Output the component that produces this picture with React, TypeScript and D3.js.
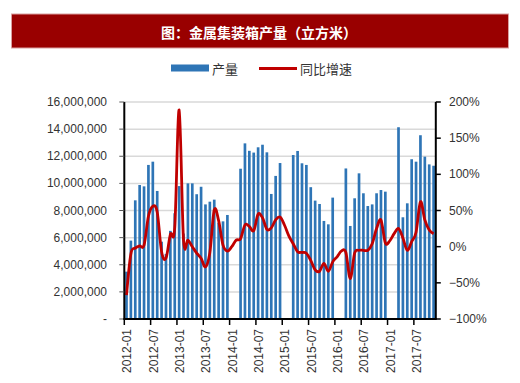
import React from 'react';
import * as d3 from 'd3';

const years = ['2012', '2013', '2014', '2015', '2016', '2017'];
const months = ['01', '02', '03', '04', '05', '06', '07', '08', '09', '10', '11', '12'];
// 2012-01 .. 2017-11
const categories: string[] = years.flatMap((y) => months.map((m) => `${y}-${m}`)).slice(0, 71);

// 产量 (立方米); null = no data shown
const production: (number | null)[] = [
  // 2012
  3490000, 5780000, 8750000, 9880000, 9780000, 11360000, 11600000, 9440000, 5700000, 4800000, 6500000, 7800000,
  // 2013
  9800000, 6300000, 10000000, 10000000, 9200000, 9750000, 8450000, 8650000, 8800000, 7100000, 7200000, 7670000,
  // 2014
  null, null, 11080000, 12950000, 12400000, 12270000, 12660000, 12850000, 12290000, 9220000, 10550000, 11500000,
  // 2015
  null, null, 12090000, 12390000, 11480000, 11360000, 9720000, 8730000, 8480000, 7230000, 6980000, 8950000,
  // 2016
  null, null, 11100000, 6860000, 8900000, 10740000, 9270000, 8330000, 8450000, 9270000, 9510000, 9390000,
  // 2017
  null, null, 14140000, 7500000, 8530000, 11780000, 11600000, 13550000, 11970000, 11400000, 11300000,
];

// 同比增速 (ratio)
const growth: number[] = [
  // 2012
  -0.67, -0.10, -0.02, 0.01, 0.02, 0.42, 0.56, 0.48, -0.07, -0.16, 0.17, 0.27,
  // 2013
  1.89, 0.09, 0.09, 0.0, -0.09, -0.16, -0.28, -0.08, 0.51, 0.36, 0.02, -0.06,
  // 2014
  0.0, 0.09, 0.11, 0.30, 0.28, 0.22, 0.45, 0.40, 0.24, 0.26, 0.37, 0.41,
  // 2015
  0.30, 0.15, 0.04, -0.07, -0.08, -0.09, -0.19, -0.32, -0.34, -0.23, -0.34, -0.21,
  // 2016
  -0.14, -0.06, -0.08, -0.44, -0.09, -0.05, -0.05, -0.05, 0.04, 0.25, 0.37, 0.05,
  // 2017
  0.08, 0.18, 0.25, 0.12, -0.05, 0.07, 0.20, 0.62, 0.37, 0.23, 0.18,
];

const leftTicks = [0, 2000000, 4000000, 6000000, 8000000, 10000000, 12000000, 14000000, 16000000];
const rightTicks = [-1, -0.5, 0, 0.5, 1, 1.5, 2];
const xTickLabels = ['2012-01', '2012-07', '2013-01', '2013-07', '2014-01', '2014-07', '2015-01', '2015-07', '2016-01', '2016-07', '2017-01', '2017-07'];

const title = '图：金属集装箱产量（立方米）';
const legendBar = '产量';
const legendLine = '同比增速';

const CJK = '"Noto Sans CJK SC", "Noto Sans", sans-serif';
const NUM = '"Liberation Sans", Arial, sans-serif';

export default function App() {
  const W = 520;
  const H = 383;
  const x0 = 124.3;
  const x1 = 435.8;
  const yTop = 102;
  const yBot = 319;

  const x = d3
    .scaleBand<string>()
    .domain(categories)
    .range([x0, x1])
    .paddingInner(0.39)
    .paddingOuter(0.195);
  const step = x.step();
  const bw = x.bandwidth();
  const cx = (c: string) => (x(c) as number) + bw / 2;
  const slotLeft = (c: string) => cx(c) - step / 2;

  const yL = d3.scaleLinear().domain([0, 16000000]).range([yBot, yTop]);
  const yR = d3.scaleLinear().domain([-1, 2]).range([yBot, yTop]);

  const line = d3
    .line<number>()
    .x((_, i) => cx(categories[i]))
    .y((d) => yR(d))
    .curve(d3.curveCardinal.tension(0));

  const fmt = d3.format(',');
  const blue = '#2E75B6';
  const red = '#C00000';

  return (
    <svg
      width={W}
      height={H}
      viewBox={`0 0 ${W} ${H}`}
      style={{ position: 'absolute', left: 0, top: 0, background: '#fff' }}
    >
      {/* title banner */}
      <rect x={11.5} y={14} width={497} height={34} fill="#990000" stroke="#d9a0a0" strokeWidth={1} />
      <text
        x={259}
        y={31.5}
        textAnchor="middle"
        dominantBaseline="central"
        fill="#fff"
        fontFamily={CJK}
        fontWeight="bold"
        fontSize={14}
      >
        {title}
      </text>

      {/* legend */}
      <rect x={171} y={64.5} width={38} height={7} fill={blue} />
      <text x={212} y={68.5} dominantBaseline="central" fontFamily={CJK} fontSize={13} fill="#333">
        {legendBar}
      </text>
      <line x1={259} x2={297} y1={68.5} y2={68.5} stroke={red} strokeWidth={3} />
      <text x={300} y={68.5} dominantBaseline="central" fontFamily={CJK} fontSize={13} fill="#333">
        {legendLine}
      </text>

      {/* gridlines */}
      {leftTicks.slice(1).map((t) => (
        <line key={'g' + t} x1={x0} x2={x1} y1={yL(t)} y2={yL(t)} stroke="#d9d9d9" strokeWidth={1.5} />
      ))}

      {/* bars */}
      {production.map((v, i) =>
        v == null ? null : (
          <rect
            key={'b' + i}
            x={x(categories[i])}
            y={yL(v)}
            width={bw}
            height={yBot - yL(v)}
            fill={blue}
          />
        )
      )}

      {/* line */}
      <path d={line(growth) || ''} fill="none" stroke={red} strokeWidth={2.8} strokeLinejoin="round" />

      {/* left axis */}
      <line x1={x0} x2={x0} y1={yTop} y2={yBot} stroke="#000" strokeWidth={2} />
      {leftTicks.map((t) => (
        <g key={'l' + t}>
          <line x1={x0 - 5} x2={x0} y1={yL(t)} y2={yL(t)} stroke="#555" strokeWidth={1} />
          <text
            x={107}
            y={yL(t)}
            textAnchor="end"
            dominantBaseline="central"
            fontFamily={NUM}
            fontSize={12}
            fill="#333"
          >
            {t === 0 ? '-' : fmt(t)}
          </text>
        </g>
      ))}

      {/* right axis */}
      <line x1={x1} x2={x1} y1={yTop} y2={yBot} stroke="#000" strokeWidth={2} />
      {rightTicks.map((t) => (
        <g key={'r' + t}>
          <line x1={x1} x2={x1 + 5} y1={yR(t)} y2={yR(t)} stroke="#000" strokeWidth={1.5} />
          <text
            x={449}
            y={yR(t)}
            dominantBaseline="central"
            fontFamily={NUM}
            fontSize={12}
            fill="#333"
          >
            {d3.format('.0%')(t)}
          </text>
        </g>
      ))}

      {/* bottom axis */}
      <line x1={x0 - 1} x2={x1 + 1} y1={yBot} y2={yBot} stroke="#000" strokeWidth={2} />
      {xTickLabels.map((lab) => (
        <g key={'x' + lab}>
          <line x1={slotLeft(lab)} x2={slotLeft(lab)} y1={yBot} y2={yBot + 6} stroke="#000" strokeWidth={1.5} />
          <text
            transform={`translate(${cx(lab) + 1},${329}) rotate(-90)`}
            textAnchor="end"
            dominantBaseline="central"
            fontFamily={NUM}
            fontSize={12}
            fill="#333"
          >
            {lab}
          </text>
        </g>
      ))}
    </svg>
  );
}
